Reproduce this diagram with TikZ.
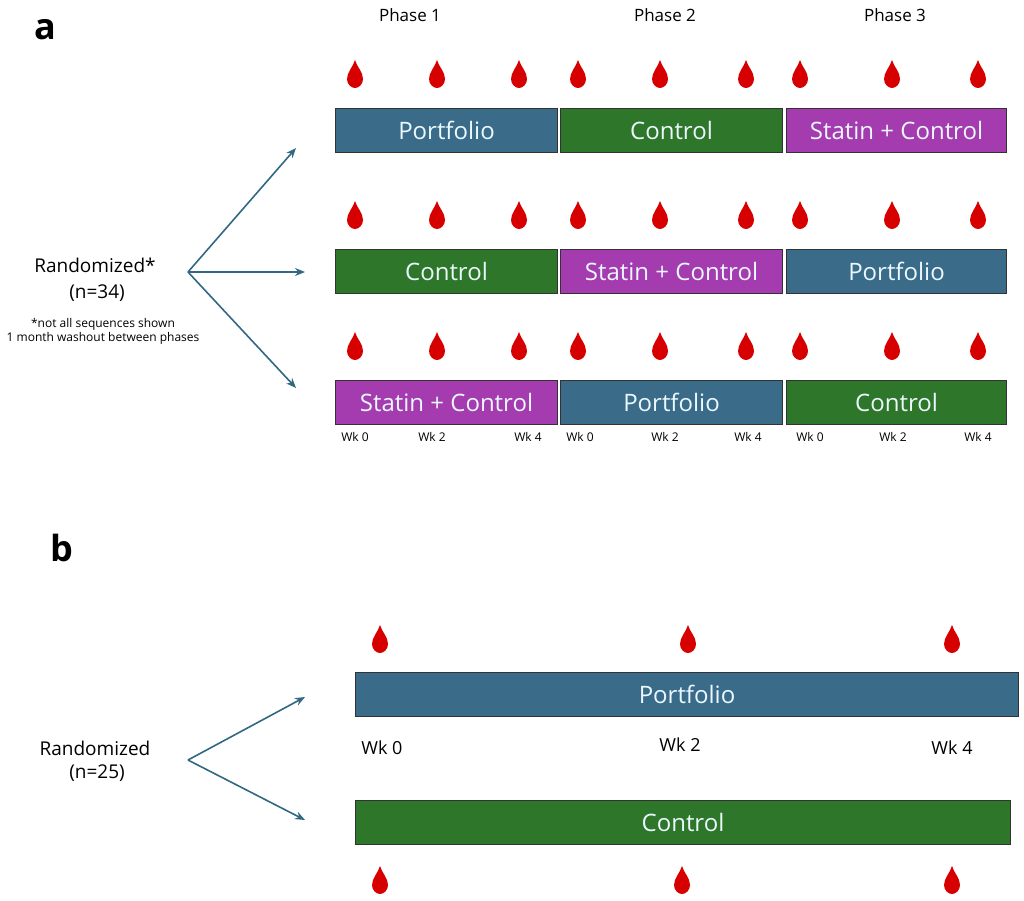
\documentclass[tikz,border=0pt]{standalone}
\usepackage{fontspec}
\setmainfont{Open Sans}
\usetikzlibrary{arrows.meta}
\definecolor{pblue}{RGB}{58,108,138}
\definecolor{pgreen}{RGB}{46,118,42}
\definecolor{ppurple}{RGB}{164,60,176}
\definecolor{arrowc}{RGB}{50,105,130}
\definecolor{dropc}{RGB}{215,0,0}
\begin{document}
\begin{tikzpicture}[x=1pt,y=-1pt,
  box/.style={draw=black!80,line width=1pt,minimum height=44pt,inner sep=0pt,anchor=north west,text=white!92!cyan,font=\fontsize{24}{26}\selectfont},
  pb/.style={box,fill=pblue},
  pg/.style={box,fill=pgreen},
  pp/.style={box,fill=ppurple},
  arr/.style={-{Stealth[length=10pt,width=8pt]},draw=arrowc,line width=1.6pt},
  wk/.style={font=\fontsize{12}{14}\selectfont},
  drop/.pic={\fill[dropc] (0,-15) .. controls (2,-8) and (8,-3) .. (8,4) .. controls (8,9) and (4,13) .. (0,13) .. controls (-4,13) and (-8,9) .. (-8,4) .. controls (-8,-3) and (-2,-8) .. (0,-15) -- cycle;}]
\useasboundingbox (0,0) rectangle (1024,900);
\node[font=\fontsize{36}{40}\bfseries\selectfont] (la) at (45,30) {a};
\node[font=\fontsize{36}{40}\bfseries\selectfont] (lb) at (62,548) {b};
\foreach \t/\x in {Phase 1/410,Phase 2/665,Phase 3/895} \node[font=\fontsize{17}{19}\selectfont] (ph\x) at (\x,15) {\t};
% rows
\foreach \y/\a/\b/\c/\ta/\tb/\tc in {108/pb/pg/pp/Portfolio/Control/Statin + Control,249/pg/pp/pb/Control/Statin + Control/Portfolio,380/pp/pb/pg/Statin + Control/Portfolio/Control}{
  \node[\a,minimum width=222pt] (r\y a) at (335,\y) {\ta};
  \node[\b,minimum width=222pt] (r\y b) at (560,\y) {\tb};
  \node[\c,minimum width=220pt] (r\y c) at (786,\y) {\tc};
  \foreach \dx in {355,437,519,578,660,746,800,892,978} \pic at (\dx,\y-33) {drop};
}
\foreach \x/\t in {355/Wk 0,432/Wk 2,528/Wk 4,580/Wk 0,665/Wk 2,748/Wk 4,810/Wk 0,893/Wk 2,978/Wk 4} \node[wk] (w\x) at (\x,437) {\t};
\node[font=\fontsize{19}{21}\selectfont] (ra) at (95,265) {Randomized*};
\node[font=\fontsize{19}{21}\selectfont] (na) at (97,293) {(n=34)};
\node[font=\fontsize{12}{14}\selectfont,align=center] (nt) at (103,331) {*not all sequences shown\\1 month washout between phases};
\coordinate (sa) at (188,272);
\coordinate (ea1) at (296,148); \coordinate (ea2) at (305,272); \coordinate (ea3) at (296,388);
\draw[arr] (sa) -- (ea1); \draw[arr] (sa) -- (ea2); \draw[arr] (sa) -- (ea3);
% b
\node[pb,minimum width=663pt] (bp) at (355,672) {Portfolio};
\node[pg,minimum width=655pt] (bc) at (355,800) {Control};
\foreach \dx in {380,688,952} \pic at (\dx,640) {drop};
\foreach \dx in {380,682,952} \pic at (\dx,881) {drop};
\foreach \x/\t in {382/Wk 0,680/Wk 2,952/Wk 4} \node[font=\fontsize{18}{20}\selectfont] (bw\x) at (\x,\ifnum\x=680 745\else 748\fi) {\t};
\node[font=\fontsize{19}{21}\selectfont] (rb) at (95,748) {Randomized};
\node[font=\fontsize{19}{21}\selectfont] (nb) at (97,773) {(n=25)};
\coordinate (sb) at (188,760);
\coordinate (eb1) at (305,697); \coordinate (eb2) at (305,820);
\draw[arr] (sb) -- (eb1); \draw[arr] (sb) -- (eb2);
\end{tikzpicture}
\end{document}
